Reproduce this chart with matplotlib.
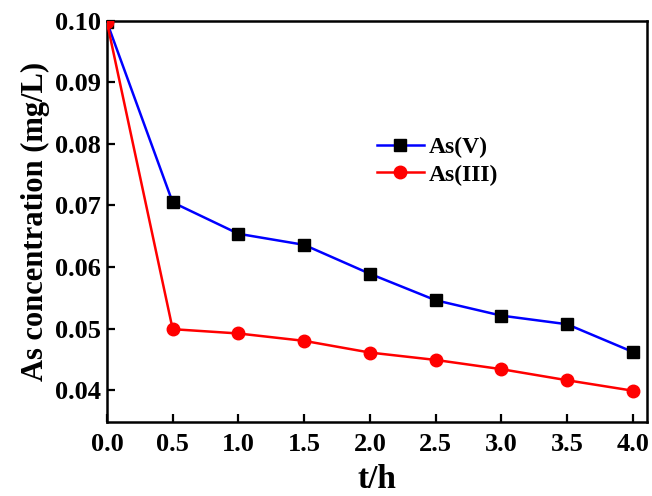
import matplotlib
matplotlib.use("Agg")
import matplotlib.pyplot as plt

# data
t = [0.0, 0.5, 1.0, 1.5, 2.0, 2.5, 3.0, 3.5, 4.0]
as_v = [0.0998, 0.0705, 0.0654, 0.0636, 0.0589, 0.0546, 0.0521, 0.0507, 0.0462]
as_iii = [0.0998, 0.0499, 0.0492, 0.0480, 0.0461, 0.0449, 0.0434, 0.0416, 0.0399]
xticks = [0.0, 0.5, 1.0, 1.5, 2.0, 2.5, 3.0, 3.5, 4.0]
yticks = [0.04, 0.05, 0.06, 0.07, 0.08, 0.09, 0.10]

plt.rcParams['font.family'] = ['Liberation Serif', 'DejaVu Serif']
plt.rcParams['font.weight'] = 'bold'

fig = plt.figure(figsize=(6.52, 4.96), dpi=100)
ax = fig.add_axes([0.164, 0.149, 0.828, 0.809])

ax.plot(t, as_v, color='blue', lw=1.8, marker='s', ms=8,
        mfc='black', mec='black', label='As(V)', zorder=3)
ax.plot(t, as_iii, color='red', lw=1.8, marker='o', ms=9,
        mfc='red', mec='red', label='As(III)', zorder=4)

ax.set_xlim(0, 4.106)
ax.set_ylim(0.0348, 0.10)
ax.set_xticks(xticks)
ax.set_yticks(yticks)
ax.set_xticklabels([f"{v:.1f}" for v in xticks])
ax.set_yticklabels([f"{v:.2f}" for v in yticks])
ax.tick_params(direction='in', length=6, width=1.6, labelsize=19,
               top=False, right=False)
ax.tick_params(axis='x', pad=7.5)
ax.tick_params(axis='y', pad=4)
for lab in ax.get_xticklabels() + ax.get_yticklabels():
    lab.set_fontweight('bold')
for sp in ax.spines.values():
    sp.set_linewidth(1.8)

ax.set_xlabel('t/h', fontsize=24, fontweight='bold', labelpad=6)
ax.set_ylabel('As concentration (mg/L)', fontsize=22, fontweight='bold', labelpad=4)

ax.legend(loc='center left', bbox_to_anchor=(0.46, 0.65), frameon=False,
          prop={'size': 17, 'weight': 'bold'}, handlelength=2.0,
          handletextpad=0.2, labelspacing=0.25)

fig.savefig('out.png', dpi=100)
